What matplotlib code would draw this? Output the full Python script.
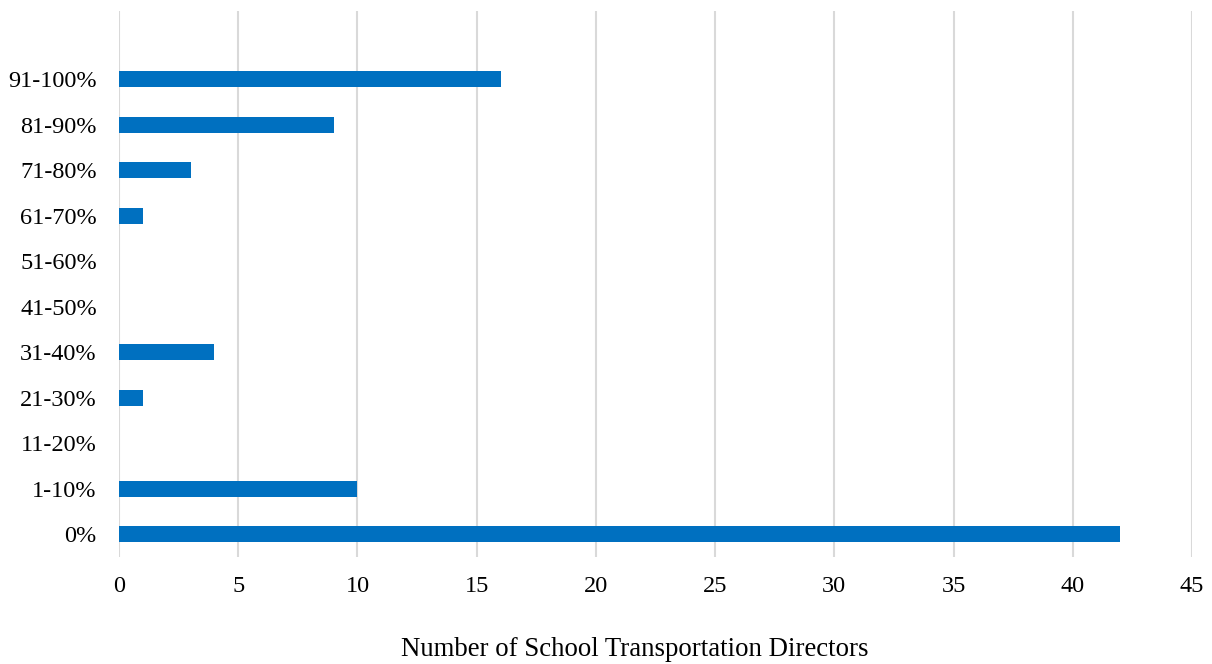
import matplotlib
matplotlib.use("Agg")
import matplotlib.pyplot as plt

categories = ["0%", "1-10%", "11-20%", "21-30%", "31-40%", "41-50%",
              "51-60%", "61-70%", "71-80%", "81-90%", "91-100%"]
values = [42, 10, 0, 1, 4, 0, 0, 1, 3, 9, 16]
xticks = [0, 5, 10, 15, 20, 25, 30, 35, 40, 45]
xlabel = "Number of School Transportation Directors"

plt.rcParams['font.family'] = ['Liberation Serif', 'DejaVu Serif']

fig = plt.figure(figsize=(12.12, 6.64), dpi=100)
W, H = 1212, 664
ax = fig.add_axes([119 / W, 1 - 557 / H, (1192 - 119) / W, (557 - 11) / H])

ypos = list(range(len(categories)))
ax.barh(ypos, values, height=0.35, color="#0070C0", zorder=3)

ax.set_xlim(0, 45)
ax.set_ylim(-0.5, 11.5)
ax.set_xticks(xticks)
ax.set_xticklabels([str(t) for t in xticks], fontsize=17.5)
ax.set_yticks(ypos)
ax.set_yticklabels(categories, fontsize=17.5)
ax.tick_params(axis='both', length=0)
ax.tick_params(axis='x', pad=14)
ax.tick_params(axis='y', pad=16)
ax.grid(axis='x', color="#D9D9D9", linewidth=1.5, zorder=0)
for s in ax.spines.values():
    s.set_visible(False)

fig.text(635 / W, 1 - 656 / H, xlabel, fontsize=19.3,
         ha='center', va='baseline')

fig.savefig("out.png", dpi=100)
